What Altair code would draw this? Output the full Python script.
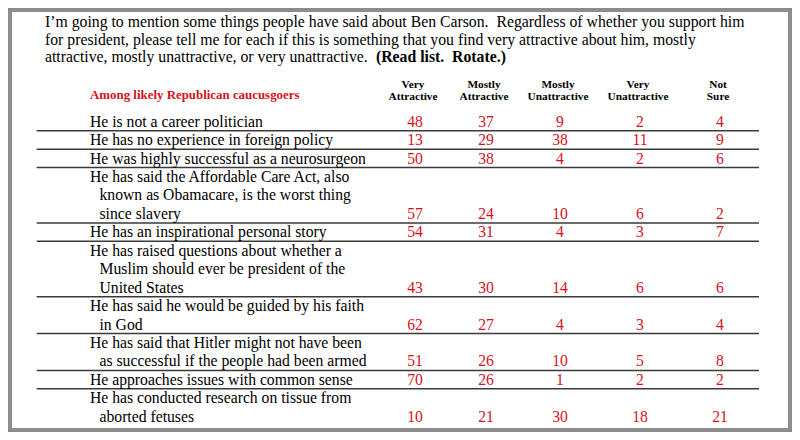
import altair as alt
import pandas as pd

# ---------------- data ----------------
title_lines = [
    "I’m going to mention some things people have said about Ben Carson.\u00a0 Regardless of whether you support him",
    "for president, please tell me for each if this is something that you find very attractive about him, mostly",
    "attractive, mostly unattractive, or very unattractive.",
]
title_bold = "(Read list.\u00a0 Rotate.)"
subtitle = "Among likely Republican caucusgoers"
column_heads = [
    ["Very", "Attractive"],
    ["Mostly", "Attractive"],
    ["Mostly", "Unattractive"],
    ["Very", "Unattractive"],
    ["Not", "Sure"],
]
statements = [
    ["He is not a career politician"],
    ["He has no experience in foreign policy"],
    ["He was highly successful as a neurosurgeon"],
    ["He has said the Affordable Care Act, also", "known as Obamacare, is the worst thing", "since slavery"],
    ["He has an inspirational personal story"],
    ["He has raised questions about whether a", "Muslim should ever be president of the", "United States"],
    ["He has said he would be guided by his faith", "in God"],
    ["He has said that Hitler might not have been", "as successful if the people had been armed"],
    ["He approaches issues with common sense"],
    ["He has conducted research on tissue from", "aborted fetuses"],
]
very_attractive = [48, 13, 50, 57, 54, 43, 62, 51, 70, 10]
mostly_attractive = [37, 29, 38, 24, 31, 30, 27, 26, 26, 21]
mostly_unattractive = [9, 38, 4, 10, 4, 14, 4, 10, 1, 30]
very_unattractive = [2, 11, 2, 6, 3, 6, 3, 5, 2, 18]
not_sure = [4, 9, 6, 2, 7, 6, 4, 8, 2, 21]

# ---------------- layout ----------------
SERIF = "Liberation Serif"
RED = "#d8101c"
col_x = [415, 486, 560, 640, 720]
label_x, indent = 90, 9.5
first_base, pitch = 126.7, 18.44
title_x, title_base, title_pitch = 45, 26.7, 17.8
rule_x0, rule_x1 = 36.7, 759
W, H = 784, 424  # chart plus the 8px page margin fills the 800x440 window

series = [very_attractive, mostly_attractive, mostly_unattractive, very_unattractive, not_sure]

label_rows, num_rows, rule_rows = [], [], []
k = 0
for i, lines in enumerate(statements):
    for j, line in enumerate(lines):
        label_rows.append({"x": label_x + (indent if j else 0), "y": first_base + pitch * k, "t": line})
        k += 1
    last = first_base + pitch * (k - 1)
    for c, s in enumerate(series):
        num_rows.append({"x": col_x[c], "y": last, "t": str(s[i])})
    if i < len(statements) - 1:
        rule_rows.append({"x": rule_x0, "x2": rule_x1, "y": last + 4})

title_rows = [{"x": title_x, "y": title_base + title_pitch * i, "t": t} for i, t in enumerate(title_lines)]
bold_rows = [{"x": 376, "y": title_base + title_pitch * 2, "t": title_bold}]
sub_rows = [{"x": 90, "y": 99.3, "t": subtitle}]
head_rows = []
for c, h in enumerate(column_heads):
    head_rows.append({"x": col_x[c] - 2, "y": 88.3, "t": h[0]})
    head_rows.append({"x": col_x[c] - 2, "y": 100, "t": h[1]})

# page coordinates of the reference (chart starts at page offset 8)
xs = alt.Scale(domain=[8, 8 + W])
ys = alt.Scale(domain=[8, 8 + H], reverse=True)


def txt(rows, **kw):
    return alt.Chart(pd.DataFrame(rows)).mark_text(baseline="alphabetic", font=SERIF, **kw).encode(
        x=alt.X("x:Q", scale=xs, axis=None),
        y=alt.Y("y:Q", scale=ys, axis=None),
        text="t:N",
    )


frame = alt.Chart(pd.DataFrame([{"a": 0}])).mark_rect(
    fill=None, stroke="#8c8c8c", strokeWidth=4
).encode(x=alt.value(2), x2=alt.value(W - 2), y=alt.value(2), y2=alt.value(H - 2))

rules = alt.Chart(pd.DataFrame(rule_rows)).mark_rule(color="#3a3a3a", strokeWidth=1.5).encode(
    x=alt.X("x:Q", scale=xs, axis=None),
    x2="x2:Q",
    y=alt.Y("y:Q", scale=ys, axis=None),
)

chart = alt.layer(
    frame,
    rules,
    txt(title_rows, align="left", fontSize=15.75, color="#000000"),
    txt(bold_rows, align="left", fontSize=15.75, fontWeight="bold", color="#000000"),
    txt(sub_rows, align="left", fontSize=12.9, fontWeight="bold", color=RED),
    txt(head_rows, align="center", fontSize=11.3, fontWeight="bold", color="#000000"),
    txt(label_rows, align="left", fontSize=15.7, color="#000000"),
    txt(num_rows, align="center", fontSize=15.7, color=RED),
).properties(
    width=W, height=H, padding=0, autosize=alt.AutoSizeParams(type="none"), background="white"
).configure_view(stroke=None)

chart.save("out.html", embed_options={"renderer": "svg", "actions": False})
